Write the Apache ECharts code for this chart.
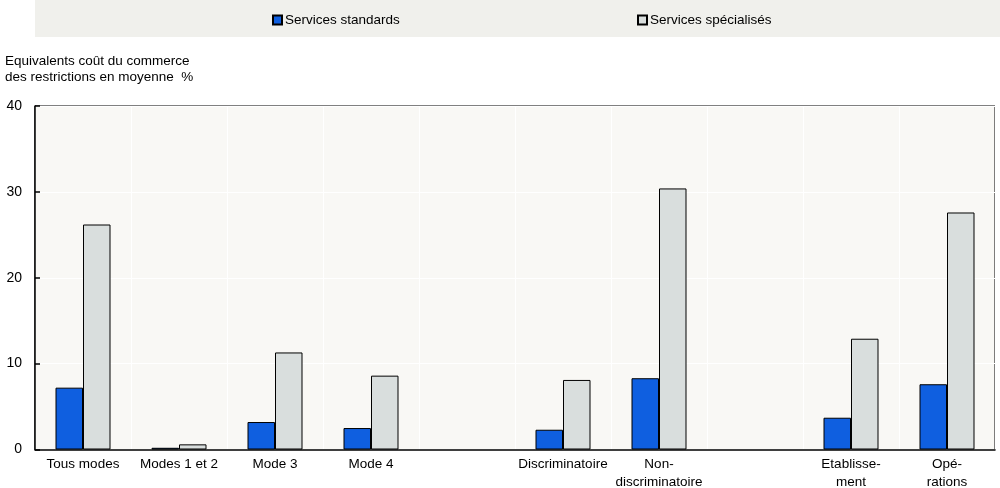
<!DOCTYPE html>
<html><head><meta charset="utf-8">
<script src="https://cdn.jsdelivr.net/npm/echarts@6/dist/echarts.min.js"></script>
<style>html,body{margin:0;padding:0;background:#fff}#c{width:1000px;height:488px}</style>
</head><body><div id="c"></div>
<script>
const categories = ['Tous modes','Modes 1 et 2','Mode 3','Mode 4','','Discriminatoire','Non-\ndiscriminatoire','','Etablisse-\nment','Opé-\nrations'];
const standards = [7.2, 0.2, 3.2, 2.5, null, 2.3, 8.3, null, 3.7, 7.6];
const specialises = [26.2, 0.6, 11.3, 8.6, null, 8.1, 30.4, null, 12.9, 27.6];
const seriesNames = ['Services standards','Services spécialisés'];
const yTitle = 'Equivalents coût du commerce\ndes restrictions en moyenne  %';

const FONT = '"Liberation Sans",Arial,sans-serif';
const FS = 13.5;
const chart = echarts.init(document.getElementById('c'), null, {renderer:'canvas'});
chart.setOption({
  animation:false,
  textStyle:{fontFamily:FONT, color:'#000'},
  graphic:[
    {type:'rect', left:35, top:0, shape:{width:965, height:37}, style:{fill:'#f0f0ec'}, z:-1},
    {type:'text', left:5, top:53, style:{text:yTitle, font:FS+'px '+FONT, fill:'#000', lineHeight:16}}
  ],
  legend:[
    {data:[seriesNames[0]], left:272, top:13, padding:0, itemWidth:9, itemHeight:9, itemGap:4, textStyle:{fontSize:FS, fontFamily:FONT, color:'#000', padding:[0,0,0,-2]}, icon:'rect'},
    {data:[seriesNames[1]], left:637, top:13, padding:0, itemWidth:9, itemHeight:9, itemGap:4, textStyle:{fontSize:FS, fontFamily:FONT, color:'#000', padding:[0,0,0,-2]}, icon:'rect'}
  ],
  grid:{left:35, right:5, top:106, bottom:38.5, outerBoundsMode:'none', containLabel:false, show:true, backgroundColor:'#f9f8f5', borderColor:'#000', borderWidth:1},
  xAxis:{
    type:'category', data:categories,
    axisLine:{lineStyle:{color:'#000', width:1.5}},
    axisTick:{inside:true, length:5, interval:0, lineStyle:{color:'#000', width:1.5}},
    axisLabel:{interval:0, fontSize:FS, fontFamily:FONT, color:'#000', margin:6, lineHeight:18},
    splitLine:{show:true, interval:0, lineStyle:{color:'#ffffff', width:1}}
  },
  yAxis:{
    type:'value', min:0, max:40, interval:10,
    axisLine:{show:true, lineStyle:{color:'#000', width:1.5}},
    axisTick:{show:true, inside:true, length:5, lineStyle:{color:'#000', width:1.5}},
    axisLabel:{fontSize:14, fontFamily:FONT, color:'#000', margin:13},
    splitLine:{show:true, lineStyle:{color:'#ffffff', width:1}}
  },
  series:[
    {name:seriesNames[0], type:'bar', data:standards, barWidth:27.5, barGap:'0%',
     itemStyle:{color:'#0f5fe0', borderColor:'#000', borderWidth:1}},
    {name:seriesNames[1], type:'bar', data:specialises, barWidth:27.5, barGap:'0%',
     itemStyle:{color:'#d9dedd', borderColor:'#000', borderWidth:1}}
  ]
});
</script></body></html>
